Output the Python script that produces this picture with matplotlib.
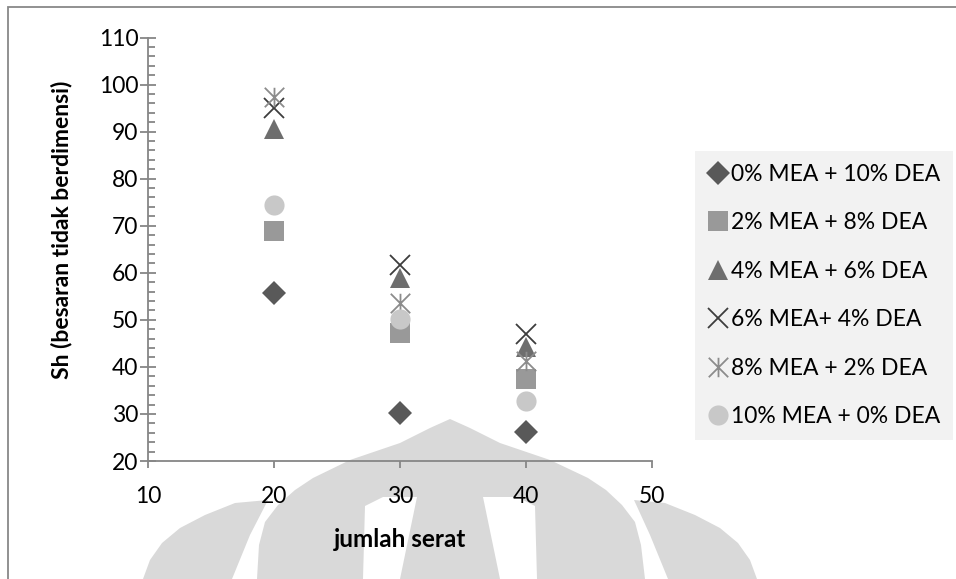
import matplotlib
matplotlib.use("Agg")
import matplotlib.pyplot as plt
from matplotlib.path import Path
from matplotlib.patches import Polygon, Rectangle

plt.rcParams['font.family'] = ['Lato', 'DejaVu Sans']

# ---- data ----
jumlah_serat = [20, 30, 40]
series_labels = [
    "0% MEA + 10% DEA",
    "2% MEA + 8% DEA",
    "4% MEA + 6% DEA",
    "6% MEA+ 4% DEA",
    "8% MEA + 2% DEA",
    "10% MEA + 0% DEA",
]
sh_0mea = [55.7, 30.1, 26.1]
sh_2mea = [68.8, 47.2, 37.5]
sh_4mea = [90.5, 58.9, 44.3]
sh_6mea = [95.1, 61.6, 47.0]
sh_8mea = [97.3, 53.6, 41.2]
sh_10mea = [74.4, 50.1, 32.7]
x_ticks = [10, 20, 30, 40, 50]
y_ticks = [20, 30, 40, 50, 60, 70, 80, 90, 100, 110]

W, H = 956, 579
fig = plt.figure(figsize=(W / 100, H / 100), dpi=100)


def px(x, y):
    return (x / W, 1 - y / H)


# faint emblem in the page background
emblem_color = "#d9d9d9"
dome = [(257, 579), (259, 545), (265, 522), (278, 505), (295, 490), (313, 478),
        (350, 460), (400, 443), (430, 428), (450, 419), (470, 428), (500, 443),
        (550, 460), (588, 478), (606, 490), (622, 505), (635, 522), (641, 545),
        (645, 579)]
petal_l = [(143, 579), (150, 560), (162, 543), (180, 528), (205, 515), (235, 503),
           (268, 500), (250, 535), (232, 579)]
petal_r = [(757, 579), (750, 560), (738, 543), (720, 528), (695, 515), (665, 503),
           (634, 500), (650, 535), (668, 579)]
slit_l = [(363, 579), (365, 506), (383, 497), (417, 497), (400, 579)]
slit_r = [(537, 579), (535, 506), (517, 497), (483, 497), (500, 579)]
for pts, col in [(dome, emblem_color), (petal_l, emblem_color), (petal_r, emblem_color),
                 (slit_l, "white"), (slit_r, "white")]:
    fig.add_artist(Polygon([px(*p) for p in pts], closed=True,
                           transform=fig.transFigure,
                           facecolor=col, edgecolor="none", zorder=-2))

# outer chart frame
fig.add_artist(Rectangle(px(8, 620), 1000 / W, (620 - 7) / H,
                         transform=fig.transFigure, facecolor="none",
                         edgecolor="#888888", linewidth=1.3, zorder=-1))

ax = fig.add_axes([148 / W, 1 - 461 / H, 504 / W, 423.5 / H])
ax.set_facecolor("none")

# star marker: an x with a vertical stroke through it
star_path = Path(
    [(-0.5, -0.5), (0.5, 0.5), (-0.5, 0.5), (0.5, -0.5), (0, -0.5), (0, 0.5)],
    [Path.MOVETO, Path.LINETO, Path.MOVETO, Path.LINETO, Path.MOVETO, Path.LINETO],
)

styles = [
    dict(marker="D", ms=12.5, mfc="#595959", mec="#595959", mew=0),
    dict(marker="s", ms=14.5, mfc="#999999", mec="#999999", mew=0),
    dict(marker="^", ms=14.5, mfc="#6e6e6e", mec="#6e6e6e", mew=0),
    dict(marker="x", ms=14.0, mfc="none", mec="#3d3d3d", mew=1.3),
    dict(marker=star_path, ms=14.0, mfc="none", mec="#8c8c8c", mew=1.3),
    dict(marker="o", ms=14.5, mfc="#c8c8c8", mec="#c8c8c8", mew=0),
]
all_series = [sh_0mea, sh_2mea, sh_4mea, sh_6mea, sh_8mea, sh_10mea]
handles = []
for vals, lab, st in zip(all_series, series_labels, styles):
    h, = ax.plot(jumlah_serat, vals, linestyle="none", label=lab, **st)
    handles.append(h)

ax.set_xlim(10, 50)
ax.set_ylim(20, 110)
ax.set_xticks(x_ticks)
ax.set_yticks(y_ticks)
ax.set_yticks([v for v in range(20, 111, 2) if v % 10], minor=True)

for s in ["top", "right"]:
    ax.spines[s].set_visible(False)
for s in ["left", "bottom"]:
    ax.spines[s].set_color("#868686")
    ax.spines[s].set_linewidth(1.3)

ax.tick_params(axis="y", which="major", direction="inout", length=11, width=1.3,
               color="#868686", labelsize=16.5, pad=1.5, labelcolor="black")
ax.tick_params(axis="y", which="minor", direction="in", length=5, width=1.3,
               color="#868686")
ax.tick_params(axis="x", which="major", direction="out", length=5, width=1.3,
               color="#868686", labelsize=16.5, pad=13, labelcolor="black")

ax.set_xlabel("jumlah serat", fontsize=17.5, fontweight="bold", labelpad=15)
ax.set_ylabel("Sh (besaran tidak berdimensi)", fontsize=16.5, fontweight="bold")
ax.yaxis.set_label_coords(-(148 - 72) / 504, 0.545)

leg = fig.legend(handles=handles, loc="upper left",
                 bbox_to_anchor=(695 / W, 1 - 151 / H),
                 fontsize=16.5, frameon=True, fancybox=False, edgecolor="none",
                 facecolor="#f2f2f2", framealpha=1, borderpad=0.55,
                 labelspacing=1.2, handlelength=0.9, handletextpad=0.12,
                 borderaxespad=0)
leg.get_frame().set_linewidth(0)

fig.savefig("out.png", dpi=100)
